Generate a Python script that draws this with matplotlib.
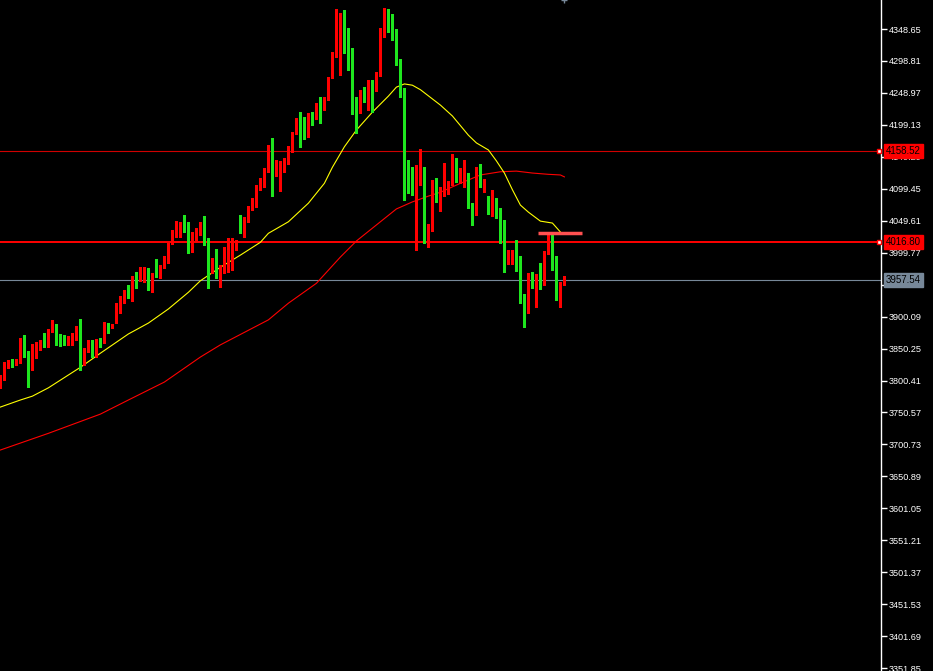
#! /usr/bin/env python3
import numpy as np
import matplotlib
matplotlib.use('Agg')
import matplotlib.pyplot as plt

# candles, oldest first (red = up, green = down)
opens = [3792, 3804, 3826, 3831, 3826, 3829, 3863, 3845, 3820, 3837,
         3856, 3862, 3859, 3876, 3882, 3868, 3867, 3860, 3865, 3867,
         3885, 3828, 3848, 3862, 3839, 3863, 3860, 3888, 3884, 3892,
         3907, 3927, 3940, 3937, 3962, 3959, 3968, 3973, 3943, 3966,
         3963, 3977, 3991, 4015, 4032, 4038, 4046, 4046, 4012, 4023,
         4030, 4044, 4013, 3971, 3990, 3962, 3970, 3980, 3996, 4009,
         4037, 4034, 4049, 4069, 4073, 4104, 4107, 4127, 4163, 4124,
         4129, 4137, 4140, 4160, 4186, 4207, 4199, 4190, 4211, 4210,
         4233, 4228, 4239, 4274, 4305, 4366, 4367, 4342, 4288, 4238,
         4224, 4255, 4236, 4264, 4253, 4277, 4349, 4378, 4360, 4347,
         4299, 4253, 4140, 4132, 4091, 4127, 4132, 4027, 4035, 4102,
         4087, 4091, 4093, 4107, 4140, 4118, 4118, 4122, 4074, 4062,
         4130, 4102, 4076, 4063, 4069, 4068, 4024, 3990, 3990, 3998,
         3993, 3932, 3921, 3965, 3959, 3965, 3962, 3999, 4015, 3993,
         3945, 3951]
highs = [3809, 3829, 3832, 3834, 3834, 3867, 3871, 3846, 3857, 3860,
         3863, 3874, 3881, 3895, 3888, 3873, 3871, 3870, 3874, 3885,
         3896, 3851, 3863, 3863, 3865, 3867, 3892, 3890, 3888, 3921,
         3932, 3941, 3949, 3963, 3970, 3977, 3977, 3976, 3968, 3990,
         3980, 3995, 4015, 4035, 4049, 4048, 4058, 4048, 4032, 4038,
         4048, 4057, 4023, 3991, 4005, 3980, 4009, 4023, 4023, 4019,
         4058, 4055, 4073, 4085, 4105, 4116, 4132, 4168, 4179, 4144,
         4143, 4147, 4166, 4188, 4210, 4219, 4211, 4218, 4219, 4233,
         4243, 4243, 4274, 4313, 4380, 4374, 4378, 4350, 4319, 4243,
         4253, 4258, 4269, 4269, 4282, 4350, 4381, 4380, 4372, 4349,
         4302, 4257, 4144, 4133, 4137, 4161, 4133, 4044, 4113, 4116,
         4102, 4140, 4112, 4154, 4147, 4132, 4144, 4124, 4077, 4133,
         4138, 4115, 4088, 4097, 4085, 4069, 4051, 4004, 4004, 4019,
         3995, 3935, 3968, 3970, 3966, 3984, 4002, 4030, 4030, 3995,
         3954, 3963]
lows = [3789, 3801, 3820, 3821, 3824, 3828, 3837, 3790, 3817, 3835,
        3848, 3853, 3853, 3876, 3856, 3854, 3856, 3856, 3856, 3863,
        3817, 3824, 3845, 3837, 3837, 3853, 3859, 3874, 3882, 3890,
        3906, 3921, 3929, 3924, 3945, 3956, 3954, 3941, 3938, 3962,
        3960, 3976, 3984, 4013, 4024, 4024, 4032, 3999, 4001, 4019,
        4027, 4012, 3945, 3968, 3960, 3946, 3968, 3970, 3973, 4004,
        4030, 4024, 4048, 4066, 4071, 4097, 4102, 4126, 4088, 4119,
        4096, 4126, 4138, 4157, 4185, 4165, 4177, 4180, 4199, 4208,
        4202, 4222, 4238, 4272, 4305, 4277, 4311, 4285, 4216, 4186,
        4218, 4235, 4222, 4219, 4252, 4275, 4336, 4344, 4332, 4292,
        4243, 4082, 4093, 4090, 4004, 4105, 4015, 4009, 4034, 4079,
        4065, 4088, 4091, 4105, 4110, 4108, 4102, 4069, 4043, 4058,
        4102, 4094, 4060, 4057, 4054, 4015, 3970, 3982, 3982, 3971,
        3921, 3884, 3906, 3945, 3915, 3943, 3949, 3998, 3973, 3926,
        3915, 3949]
closes = [3806, 3828, 3829, 3828, 3832, 3865, 3840, 3812, 3853, 3859,
          3862, 3859, 3879, 3882, 3868, 3865, 3859, 3865, 3868, 3885,
          3824, 3848, 3862, 3840, 3863, 3860, 3890, 3884, 3887, 3909,
          3931, 3940, 3937, 3962, 3957, 3970, 3973, 3943, 3966, 3963,
          3979, 3993, 4015, 4034, 4038, 4046, 4043, 4012, 4026, 4030,
          4044, 4013, 3971, 3990, 3962, 3971, 3985, 3996, 4010, 4016,
          4034, 4051, 4071, 4074, 4104, 4108, 4127, 4163, 4124, 4130,
          4138, 4141, 4161, 4186, 4207, 4197, 4190, 4211, 4210, 4233,
          4228, 4239, 4274, 4308, 4366, 4367, 4339, 4286, 4236, 4224,
          4250, 4236, 4264, 4253, 4278, 4349, 4378, 4358, 4346, 4297,
          4252, 4137, 4108, 4091, 4130, 4132, 4027, 4037, 4102, 4087,
          4093, 4102, 4108, 4140, 4116, 4121, 4122, 4074, 4062, 4130,
          4102, 4113, 4063, 4069, 4066, 4023, 3990, 3999, 3998, 3991,
          3931, 3921, 3965, 3959, 3965, 3962, 4001, 4030, 3991, 3943,
          3952, 3957.54]

# moving averages (bar index, price)
ma_fast_idx = [0, 5, 8, 12, 17, 20, 25, 32, 37, 42, 47, 50, 55, 60, 65, 67, 72,
               77, 81, 83, 86, 89, 93, 97, 99, 101, 103, 105, 110, 113, 117,
               119, 122, 124, 126, 128, 130, 132, 135, 138, 140]
ma_fast = [3759, 3770, 3776, 3789, 3809, 3821, 3843, 3873, 3890, 3912, 3938,
           3956, 3977, 3996, 4016, 4030, 4048, 4077, 4108, 4133, 4165, 4191,
           4219, 4244, 4258, 4263, 4261, 4254, 4230, 4213, 4183, 4171, 4160,
           4143, 4124, 4098, 4074, 4063, 4049, 4046, 4032]
ma_slow_idx = [0, 12, 25, 32, 41, 50, 55, 67, 72, 79, 85, 89, 95, 99, 103,
               107, 110, 115, 120, 125, 129, 133, 137, 140, 141]
ma_slow = [3692, 3718, 3748, 3770, 3798, 3837, 3856, 3895, 3921, 3952, 3993,
           4018, 4048, 4068, 4079, 4088, 4094, 4108, 4121, 4126, 4127, 4124,
           4122, 4121, 4118]

# horizontal levels
level_hi = 4158.52
level_mid = 4016.80
last_price = 3957.54
seg_price = 4030.4
seg_from, seg_to = 134.5, 145.5

ytick_vals = [3351.85, 3401.69, 3451.53, 3501.37, 3551.21, 3601.05, 3650.89,
              3700.73, 3750.57, 3800.41, 3850.25, 3900.09, 3949.93, 3999.77,
              4049.61, 4099.45, 4149.29, 4199.13, 4248.97, 4298.81, 4348.65]
ytick_top = 4398.49

bull = '#ff0000'
bear = '#1ee61e'
gray = '#778899'
lblfont = ['Liberation Sans', 'DejaVu Sans']
lblsize = 6.6

o = np.array(opens, dtype=float)
c = np.array(closes, dtype=float)
h = np.array(highs, dtype=float)
l = np.array(lows, dtype=float)
idx = np.arange(len(o))
cols = np.where(c >= o, bull, bear)

fig = plt.figure(figsize=(9.33, 6.71), dpi=100, facecolor='black')
ax = fig.add_axes([0, 0, 881 / 933, 1], facecolor='black')

ax.axhline(level_hi, color='#d00000', lw=0.8, zorder=1)
ax.axhline(level_mid, color='#ff0000', lw=1.4, zorder=1)
ax.axhline(last_price, color=gray, lw=0.8, zorder=1)

ax.plot(ma_slow_idx, ma_slow, color='#ff0000', lw=0.8, zorder=2)
ax.plot(ma_fast_idx, ma_fast, color='#ffff00', lw=0.8, zorder=2)

ax.vlines(idx, l, h, colors=cols, lw=0.8, zorder=3, antialiased=False)
ax.bar(idx, np.maximum(np.abs(c - o), 1.6), bottom=np.minimum(o, c),
       width=0.8, color=cols, lw=0, zorder=4, antialiased=False)

ax.hlines(seg_price, seg_from, seg_to, color='#ff5050', lw=2.5, zorder=5)

ax.set_xlim(-0.1, 220.15)
ax.set_ylim(3347.3, 4393.9)

for s in ['left', 'top', 'bottom']:
    ax.spines[s].set_visible(False)
ax.spines['right'].set_color('white')
ax.spines['right'].set_linewidth(1)
ax.set_xticks([])
ax.yaxis.tick_right()
ax.set_yticks(ytick_vals)
ax.set_yticklabels(['%.2f' % v for v in ytick_vals])
ax.tick_params(axis='y', colors='white', length=4, width=1, pad=1.5,
               labelsize=lblsize)
for t in ax.get_yticklabels():
    t.set_family(lblfont)

tr = ax.get_yaxis_transform()
ax.text(1.0085, ytick_top, '%.2f' % ytick_top, transform=tr, color='white',
        fontsize=lblsize, family=lblfont, va='center', ha='left', clip_on=False)

# price labels on the axis
for val, fc in [(level_hi, '#ff0000'), (level_mid, '#ff0000'), (last_price, gray)]:
    ax.text(1.0055, val, '%.2f' % val, transform=tr, color='black',
            fontsize=lblsize + 0.4, family=lblfont, va='center', ha='left',
            zorder=10, bbox=dict(facecolor=fc, edgecolor=fc, pad=1.3))
for val in [level_hi, level_mid]:
    ax.plot(0.9975, val, transform=tr, marker='s', ms=3.5, mfc='white',
            mec='#ff0000', mew=1, clip_on=False, zorder=10)

ax.plot(141, 4393.9, marker='+', color=gray, ms=5, clip_on=False)

fig.savefig('out.png', dpi=100, facecolor='black')
